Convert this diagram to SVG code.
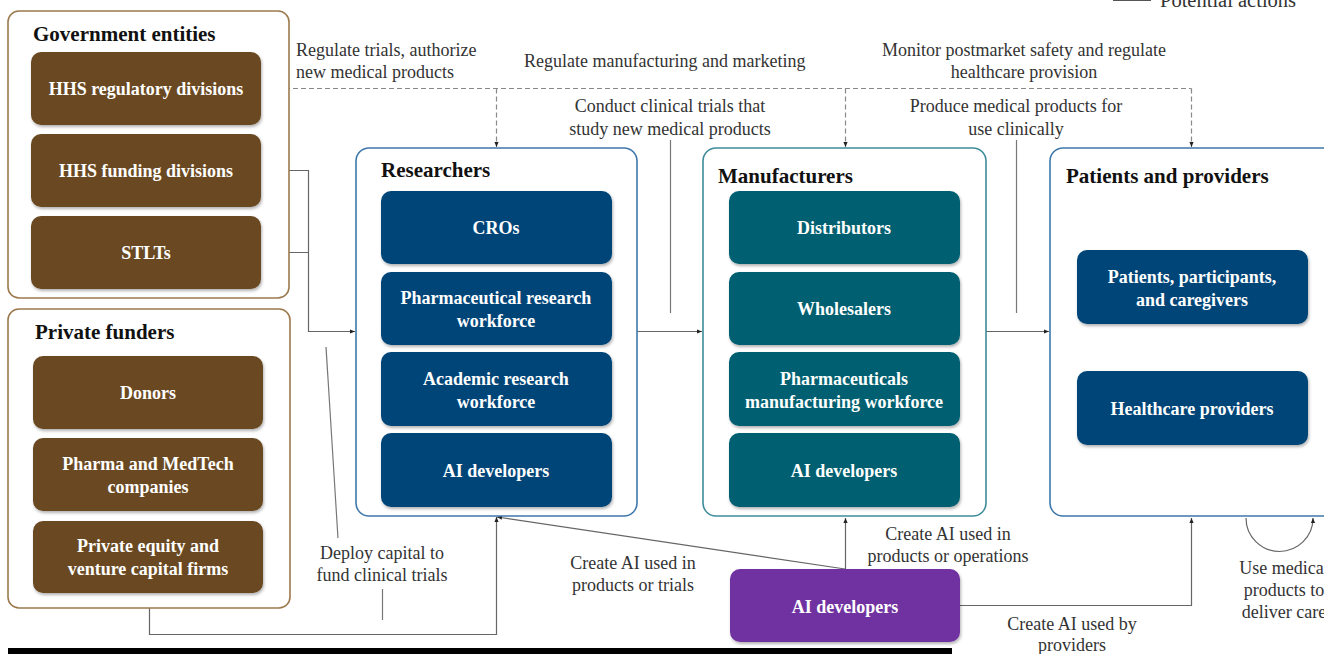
<svg xmlns="http://www.w3.org/2000/svg" width="1324" height="654" viewBox="0 0 1324 654">
  <defs>
    <filter id="shadow" x="-10%" y="-10%" width="125%" height="135%">
      <feDropShadow dx="1" dy="2" stdDeviation="1.4" flood-color="#000" flood-opacity="0.3"/>
    </filter>
    <marker id="arrow" viewBox="0 0 6 6" refX="6" refY="3" markerWidth="5" markerHeight="5" orient="auto" markerUnits="userSpaceOnUse">
      <path d="M0,0.5 L6,3 L0,5.5 z" fill="#222"/>
    </marker>
  </defs>
  <style>
    .outer { fill: #fff; stroke-width: 1.6; }
    .gov { stroke: #9C7A4E; }
    .res { stroke: #3F78AA; }
    .man { stroke: #3E8C9A; }
    .brown { fill: #6A4A22; filter: url(#shadow); }
    .blue { fill: #004578; filter: url(#shadow); }
    .teal { fill: #005F6F; filter: url(#shadow); }
    .purple { fill: #7030A0; filter: url(#shadow); }
    .title { font-family: "Liberation Serif", "Times New Roman", serif; font-weight: bold; font-size: 21px; fill: #111; }
    .box { font-family: "Liberation Serif", "Times New Roman", serif; font-weight: bold; font-size: 18px; fill: #fff; text-anchor: middle; }
    .lbl { font-family: "Liberation Serif", "Times New Roman", serif; font-size: 18px; fill: #333; }
    .legend-text { font-size: 20.5px; }
    .mid { text-anchor: middle; }
    .line { fill: none; stroke: #666; stroke-width: 1.2; }
    .dash { fill: none; stroke: #888; stroke-width: 1.2; stroke-dasharray: 5 3; }
    .lead { fill: none; stroke: #777; stroke-width: 1.2; }
  </style>

  <!-- legend -->
  <g id="legend">
    <line x1="1113" y1="0.5" x2="1151" y2="0.5" stroke="#555" stroke-width="1.2"/>
    <text class="lbl legend-text" x="1160" y="7">Potential actions</text>
  </g>

  <!-- connectors -->
  <g id="connectors">
    <!-- regulatory oversight -->
    <path class="dash" d="M261,88.5 H1191.5"/>
    <path class="dash" d="M496.5,88.5 V147" marker-end="url(#arrow)"/>
    <path class="dash" d="M845.5,88.5 V147" marker-end="url(#arrow)"/>
    <path class="dash" d="M1191.5,88.5 V147" marker-end="url(#arrow)"/>
    <!-- public funding -->
    <path class="line" d="M261,170.5 H308.5 V331.5 H355" marker-end="url(#arrow)"/>
    <path class="line" d="M261,252.5 H308.5"/>
    <!-- private funding -->
    <path class="line" d="M149.5,608 V634.5 H496.5 V517" marker-end="url(#arrow)"/>
    <!-- product pipeline -->
    <path class="line" d="M637,331.5 H702" marker-end="url(#arrow)"/>
    <path class="line" d="M986,331.5 H1049" marker-end="url(#arrow)"/>
    <!-- AI developers -->
    <path class="line" d="M845,569 L497,517" marker-end="url(#arrow)"/>
    <path class="line" d="M845.5,569 V518" marker-end="url(#arrow)"/>
    <path class="line" d="M960,605.5 H1191.5 V518" marker-end="url(#arrow)"/>
    <!-- self loop -->
    <path class="line" d="M1246,518 A33.5,33.5 0 0 0 1313,518" marker-end="url(#arrow)"/>
    <!-- label leaders -->
    <path class="lead" d="M670.5,140 V313"/>
    <path class="lead" d="M1016.5,140 V313"/>
    <path class="lead" d="M338,538 L326,347"/>
    <path class="lead" d="M382.5,589 V620"/>
  </g>

  <!-- connector labels -->
  <g id="labels">
    <text class="lbl" x="296" y="56">Regulate trials, authorize</text>
    <text class="lbl" x="296" y="78">new medical products</text>
    <text class="lbl" x="524" y="67">Regulate manufacturing and marketing</text>
    <text class="lbl mid" x="670" y="112">Conduct clinical trials that</text>
    <text class="lbl mid" x="670" y="135">study new medical products</text>
    <text class="lbl mid" x="1024" y="56">Monitor postmarket safety and regulate</text>
    <text class="lbl mid" x="1024" y="78">healthcare provision</text>
    <text class="lbl mid" x="1016" y="112">Produce medical products for</text>
    <text class="lbl mid" x="1016" y="135">use clinically</text>
    <text class="lbl mid" x="382" y="559">Deploy capital to</text>
    <text class="lbl mid" x="382" y="581">fund clinical trials</text>
    <text class="lbl mid" x="633" y="569">Create AI used in</text>
    <text class="lbl mid" x="633" y="591">products or trials</text>
    <text class="lbl mid" x="948" y="540">Create AI used in</text>
    <text class="lbl mid" x="948" y="562">products or operations</text>
    <text class="lbl mid" x="1072" y="630">Create AI used by</text>
    <text class="lbl mid" x="1072" y="651">providers</text>
    <text class="lbl mid" x="1284" y="574">Use medical</text>
    <text class="lbl mid" x="1284" y="596">products to</text>
    <text class="lbl mid" x="1284" y="618">deliver care</text>
  </g>

  <!-- government entities -->
  <g id="government">
    <rect class="outer gov" x="8" y="11" width="281" height="287" rx="11"/>
    <text class="title" x="33" y="41">Government entities</text>
    <g id="hhs-regulatory">
      <rect class="brown" x="31" y="52" width="230" height="73" rx="10"/>
      <text class="box" x="146" y="95">HHS regulatory divisions</text>
    </g>
    <g id="hhs-funding">
      <rect class="brown" x="31" y="134" width="230" height="73" rx="10"/>
      <text class="box" x="146" y="177">HHS funding divisions</text>
    </g>
    <g id="stlts">
      <rect class="brown" x="31" y="216" width="230" height="73" rx="10"/>
      <text class="box" x="146" y="259">STLTs</text>
    </g>
  </g>

  <!-- private funders -->
  <g id="private">
    <rect class="outer gov" x="8" y="309" width="282" height="299" rx="11"/>
    <text class="title" x="35" y="339">Private funders</text>
    <g id="donors">
      <rect class="brown" x="33" y="356" width="230" height="73" rx="10"/>
      <text class="box" x="148" y="399">Donors</text>
    </g>
    <g id="pharma-medtech">
      <rect class="brown" x="33" y="438" width="230" height="73" rx="10"/>
      <text class="box" x="148" y="470">Pharma and MedTech</text>
      <text class="box" x="148" y="493">companies</text>
    </g>
    <g id="pe-vc">
      <rect class="brown" x="33" y="521" width="230" height="72" rx="10"/>
      <text class="box" x="148" y="552">Private equity and</text>
      <text class="box" x="148" y="575">venture capital firms</text>
    </g>
  </g>

  <!-- researchers -->
  <g id="researchers">
    <rect class="outer res" x="356" y="148" width="281" height="368" rx="13"/>
    <text class="title" x="381" y="177">Researchers</text>
    <g id="cros">
      <rect class="blue" x="381" y="191" width="231" height="73" rx="10"/>
      <text class="box" x="496" y="234">CROs</text>
    </g>
    <g id="pharma-research">
      <rect class="blue" x="381" y="272" width="231" height="73" rx="10"/>
      <text class="box" x="496" y="304">Pharmaceutical research</text>
      <text class="box" x="496" y="327">workforce</text>
    </g>
    <g id="academic-research">
      <rect class="blue" x="381" y="352" width="231" height="74" rx="10"/>
      <text class="box" x="496" y="385">Academic research</text>
      <text class="box" x="496" y="408">workforce</text>
    </g>
    <g id="research-ai">
      <rect class="blue" x="381" y="433" width="231" height="74" rx="10"/>
      <text class="box" x="496" y="477">AI developers</text>
    </g>
  </g>

  <!-- manufacturers -->
  <g id="manufacturers">
    <rect class="outer man" x="703" y="148" width="283" height="368" rx="13"/>
    <text class="title" x="718" y="183">Manufacturers</text>
    <g id="distributors">
      <rect class="teal" x="729" y="191" width="231" height="73" rx="10"/>
      <text class="box" x="844" y="234">Distributors</text>
    </g>
    <g id="wholesalers">
      <rect class="teal" x="729" y="272" width="231" height="73" rx="10"/>
      <text class="box" x="844" y="315">Wholesalers</text>
    </g>
    <g id="pharma-manufacturing">
      <rect class="teal" x="729" y="352" width="231" height="74" rx="10"/>
      <text class="box" x="844" y="385">Pharmaceuticals</text>
      <text class="box" x="844" y="408">manufacturing workforce</text>
    </g>
    <g id="manufacturing-ai">
      <rect class="teal" x="729" y="433" width="231" height="74" rx="10"/>
      <text class="box" x="844" y="477">AI developers</text>
    </g>
  </g>

  <!-- patients and providers -->
  <g id="patients-providers">
    <rect class="outer res" x="1050" y="148" width="290" height="368" rx="13"/>
    <text class="title" x="1066" y="183">Patients and providers</text>
    <g id="patients">
      <rect class="blue" x="1077" y="250" width="231" height="74" rx="10"/>
      <text class="box" x="1192" y="283">Patients, participants,</text>
      <text class="box" x="1192" y="306">and caregivers</text>
    </g>
    <g id="healthcare-providers">
      <rect class="blue" x="1077" y="371" width="231" height="74" rx="10"/>
      <text class="box" x="1192" y="415">Healthcare providers</text>
    </g>
  </g>

  <!-- standalone AI developers -->
  <g id="ai-developers">
    <rect class="purple" x="730" y="569" width="230" height="73" rx="10"/>
    <text class="box" x="845" y="613">AI developers</text>
  </g>

  <!-- footer rule -->
  <rect x="8" y="648" width="944" height="6" fill="#000"/>
</svg>
